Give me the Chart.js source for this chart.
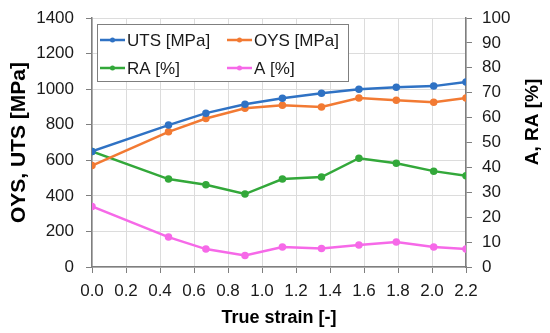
<!DOCTYPE html>
<html lang="en">
<head>
    <meta charset="UTF-8">
    <title>Strength and ductility vs true strain</title>
    <script src="https://cdn.jsdelivr.net/npm/chart.js"></script>
    <style>
        html, body { margin: 0; padding: 0; background: #fff; }
        #wrap { width: 550px; height: 333px; }
    </style>
</head>
<body>
    <div id="wrap"><canvas id="myChart"></canvas></div>
    <script>
        // True strain values (x)
        const strain = [0.0, 0.45, 0.67, 0.9, 1.12, 1.35, 1.57, 1.79, 2.01, 2.2];
        // MPa, left axis
        const uts = [650, 798, 865, 915, 949, 977, 1000, 1011, 1017, 1040];
        const oys = [570, 760, 835, 893, 910, 900, 950, 938, 927, 950];
        // %, right axis
        const ra = [46.4, 35.3, 33.0, 29.3, 35.3, 36.1, 43.7, 41.7, 38.5, 36.6];
        const elong = [24.3, 12.0, 7.2, 4.6, 8.0, 7.4, 8.8, 10.0, 8.0, 7.2];

        const FONT = "'Liberation Sans', Arial, sans-serif";

        function pts(ys) {
            return ys.map((y, i) => ({ x: strain[i], y: y }));
        }

        function series(label, ys, color, axis) {
            return {
                label: label,
                data: pts(ys),
                yAxisID: axis,
                borderColor: color,
                backgroundColor: color,
                borderWidth: 2.5,
                pointRadius: 2.5,
                pointHoverRadius: 2.5,
                tension: 0
            };
        }

        // fixed widths so the plot sits where the original does
        function fitY(w) {
            return s => {
                s.width = w;
                s.paddingTop = 0;
                s.paddingBottom = 0;
            };
        }

        // legend box + right title drawn by hand
        const extras = {
            id: 'extras',
            afterDraw(chart) {
                const ctx = chart.ctx;
                ctx.save();
                // legend
                ctx.fillStyle = '#fff';
                ctx.fillRect(97.5, 24.5, 251, 57);
                ctx.strokeStyle = '#7f7f7f';
                ctx.lineWidth = 1;
                ctx.strokeRect(97.5, 24.5, 251, 57);
                const spots = [[100, 40], [227, 40], [100, 68], [227, 68]];
                ctx.font = '17px ' + FONT;
                ctx.textBaseline = 'middle';
                chart.data.datasets.forEach((ds, i) => {
                    const [x, y] = spots[i];
                    ctx.strokeStyle = ds.borderColor;
                    ctx.lineWidth = 2.5;
                    ctx.beginPath();
                    ctx.moveTo(x, y);
                    ctx.lineTo(x + 25, y);
                    ctx.stroke();
                    ctx.fillStyle = ds.borderColor;
                    ctx.beginPath();
                    ctx.arc(x + 12.5, y, 2.5, 0, Math.PI * 2);
                    ctx.fill();
                    ctx.fillStyle = '#1a1a1a';
                    ctx.fillText(ds.label, x + 27, y + 1);
                });
                // right axis title, reads bottom to top
                ctx.translate(533, 122);
                ctx.rotate(-Math.PI / 2);
                ctx.textAlign = 'center';
                ctx.fillStyle = '#000';
                ctx.font = 'bold 19px ' + FONT;
                ctx.fillText('A, RA [%]', 0, 0);
                ctx.restore();
            }
        };

        const ctx = document.getElementById('myChart').getContext('2d');
        new Chart(ctx, {
            type: 'line',
            data: {
                datasets: [
                    series('UTS [MPa]', uts, '#2f72c4', 'y'),
                    series('OYS [MPa]', oys, '#f27a33', 'y'),
                    series('RA [%]', ra, '#33a83a', 'y1'),
                    series('A [%]', elong, '#f669e8', 'y1')
                ]
            },
            options: {
                responsive: true,
                maintainAspectRatio: false,
                animation: false,
                layout: { padding: { top: 18, left: 0, right: 0, bottom: 0 } },
                plugins: {
                    legend: { display: false },
                    tooltip: { enabled: false }
                },
                scales: {
                    x: {
                        type: 'linear',
                        min: 0,
                        max: 2.2,
                        afterFit: s => { s.height = 66; },
                        afterBuildTicks: s => {
                            s.ticks = [];
                            for (let i = 0; i <= 11; i++) s.ticks.push({ value: i * 0.2 });
                        },
                        ticks: {
                            font: { family: FONT, size: 17 },
                            color: '#1a1a1a',
                            padding: 8,
                            maxRotation: 0,
                            callback: v => v.toFixed(1)
                        },
                        grid: { color: '#dcdcdc', tickColor: '#7f7f7f', tickLength: 6 },
                        border: { color: '#7f7f7f', width: 1.5 },
                        title: {
                            display: true,
                            text: 'True strain [-]',
                            font: { family: FONT, size: 18, weight: 'bold' },
                            color: '#000',
                            padding: { top: 2, bottom: 4 }
                        }
                    },
                    y: {
                        position: 'left',
                        min: 0,
                        max: 1400,
                        afterFit: fitY(92),
                        ticks: {
                            stepSize: 200,
                            font: { family: FONT, size: 17 },
                            color: '#1a1a1a',
                            padding: 12,
                            callback: v => String(v)
                        },
                        grid: { color: '#dcdcdc', tickColor: '#7f7f7f', tickLength: 6 },
                        border: { color: '#7f7f7f', width: 1.5 },
                        title: {
                            display: true,
                            text: 'OYS, UTS [MPa]',
                            font: { family: FONT, size: 21, weight: 'bold' },
                            color: '#000',
                            padding: { top: 7, bottom: 0 }
                        }
                    },
                    y1: {
                        position: 'right',
                        min: 0,
                        max: 100,
                        afterFit: fitY(84),
                        ticks: {
                            stepSize: 10,
                            font: { family: FONT, size: 17 },
                            color: '#1a1a1a',
                            padding: 10
                        },
                        grid: { drawOnChartArea: false, tickColor: '#7f7f7f', tickLength: 6 },
                        border: { color: '#7f7f7f', width: 1.5 }
                    }
                }
            },
            plugins: [extras]
        });
    </script>
</body>
</html>
